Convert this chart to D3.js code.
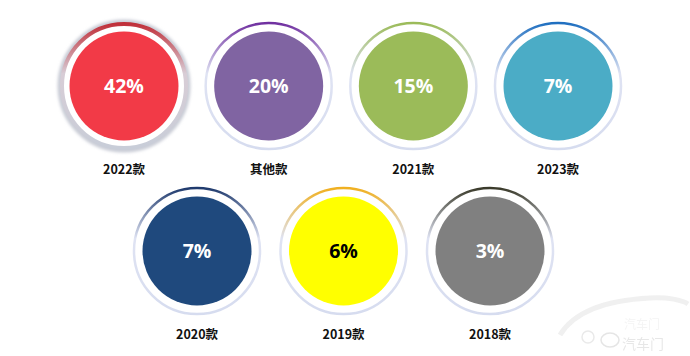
<!DOCTYPE html>
<html><head><meta charset="utf-8">
<script src="https://cdn.jsdelivr.net/npm/d3@7"></script>
<style>html,body{margin:0;padding:0;background:#fff;}svg{display:block;}</style>
</head><body>
<svg id="c" width="690" height="356"></svg>
<script>
const categories = ["2022款","其他款","2021款","2023款","2020款","2019款","2018款"];
const values = [42, 20, 15, 7, 7, 6, 3];
const fillColors = ["#f23a47","#8064a2","#9bbb59","#4bacc6","#1f497d","#ffff00","#808080"];
const ringColors = ["#c0303a","#7030a0","#9bbb59","#1f6fc0","#1f3a6d","#f0b020","#3a3a2a"];
const textColors = ["#fff","#fff","#fff","#fff","#fff","#000","#fff"];

const svg = d3.select("#c");
const defs = svg.append("defs");
const rowSplit = 4;
const xTop = d3.scalePoint().domain(categories.slice(0,rowSplit)).range([124,558]);
const xBot = d3.scalePoint().domain(categories.slice(rowSplit)).range([197,490]);
const yRow = d3.scalePoint().domain([0,1]).range([86,251]);

const fl = defs.append("filter").attr("id","sh").attr("x","-20%").attr("y","-20%").attr("width","140%").attr("height","140%");
fl.append("feGaussianBlur").attr("in","SourceGraphic").attr("stdDeviation",1.4);

const items = categories.map((c,i)=>({c, v: values[i], i,
  x: i < rowSplit ? xTop(c) : xBot(c), y: yRow(i < rowSplit ? 0 : 1)}));

items.forEach(d=>{
  const g = defs.append("linearGradient").attr("id","g"+d.i).attr("x1",0).attr("y1",0).attr("x2",0).attr("y2",1);
  g.append("stop").attr("offset","0%").attr("stop-color",ringColors[d.i]);
  g.append("stop").attr("offset","40%").attr("stop-color", d.i===0 ? "#d8cdd6" : "#dfe3f3");
  g.append("stop").attr("offset","100%").attr("stop-color", d.i===0 ? "#c8cdd8" : "#d6dcef");
});

const grp = svg.selectAll("g.item").data(items).join("g").attr("class","item")
  .attr("transform", d=>`translate(${d.x},${d.y})`);

grp.filter(d=>d.i===0).append("circle").attr("r",63).attr("fill","none")
  .attr("stroke","#c9ccd6").attr("stroke-width",7).attr("filter","url(#sh)");
grp.append("circle").attr("r",d=> d.i===0 ? 62 : 63).attr("fill","#fff")
  .attr("stroke",d=>`url(#g${d.i})`).attr("stroke-width",d=> d.i===0 ? 4 : 2.5);
grp.append("circle").attr("r",54.5).attr("fill",d=>fillColors[d.i]);
grp.append("text").attr("text-anchor","middle").attr("dy","0.36em")
  .attr("font-family","'Open Sans', 'DejaVu Sans', sans-serif").attr("font-weight","bold")
  .attr("font-size",19.5).attr("fill",d=>textColors[d.i]).text(d=>d.v+"%");
grp.append("text").attr("text-anchor","middle").attr("y",83).attr("dy","0.36em")
  .attr("font-family","'Noto Sans CJK SC', sans-serif").attr("font-weight","bold")
  .attr("font-size",12.5).attr("fill","#111").text(d=>d.c);

// watermark
const wm = svg.append("g").attr("opacity",0.55);
wm.append("path").attr("d","M560,335 C575,310 610,300 650,298 C668,297 682,300 688,304")
  .attr("fill","none").attr("stroke","#e4e4e4").attr("stroke-width",5);
wm.append("circle").attr("cx",588).attr("cy",337).attr("r",6).attr("fill","none").attr("stroke","#d8d8d8").attr("stroke-width",1.5);
wm.append("ellipse").attr("cx",610).attr("cy",340).attr("rx",9).attr("ry",7).attr("fill","none").attr("stroke","#d0d0d0").attr("stroke-width",1.5);
wm.append("text").attr("x",624).attr("y",329).attr("font-family","'Noto Sans CJK SC', sans-serif")
  .attr("font-size",12).attr("fill","#ececec").text("汽车门");
wm.append("text").attr("x",622).attr("y",349).attr("font-family","'Noto Sans CJK SC', sans-serif")
  .attr("font-size",14).attr("fill","#d4d4d4").text("汽车门");
</script>
</body></html>
